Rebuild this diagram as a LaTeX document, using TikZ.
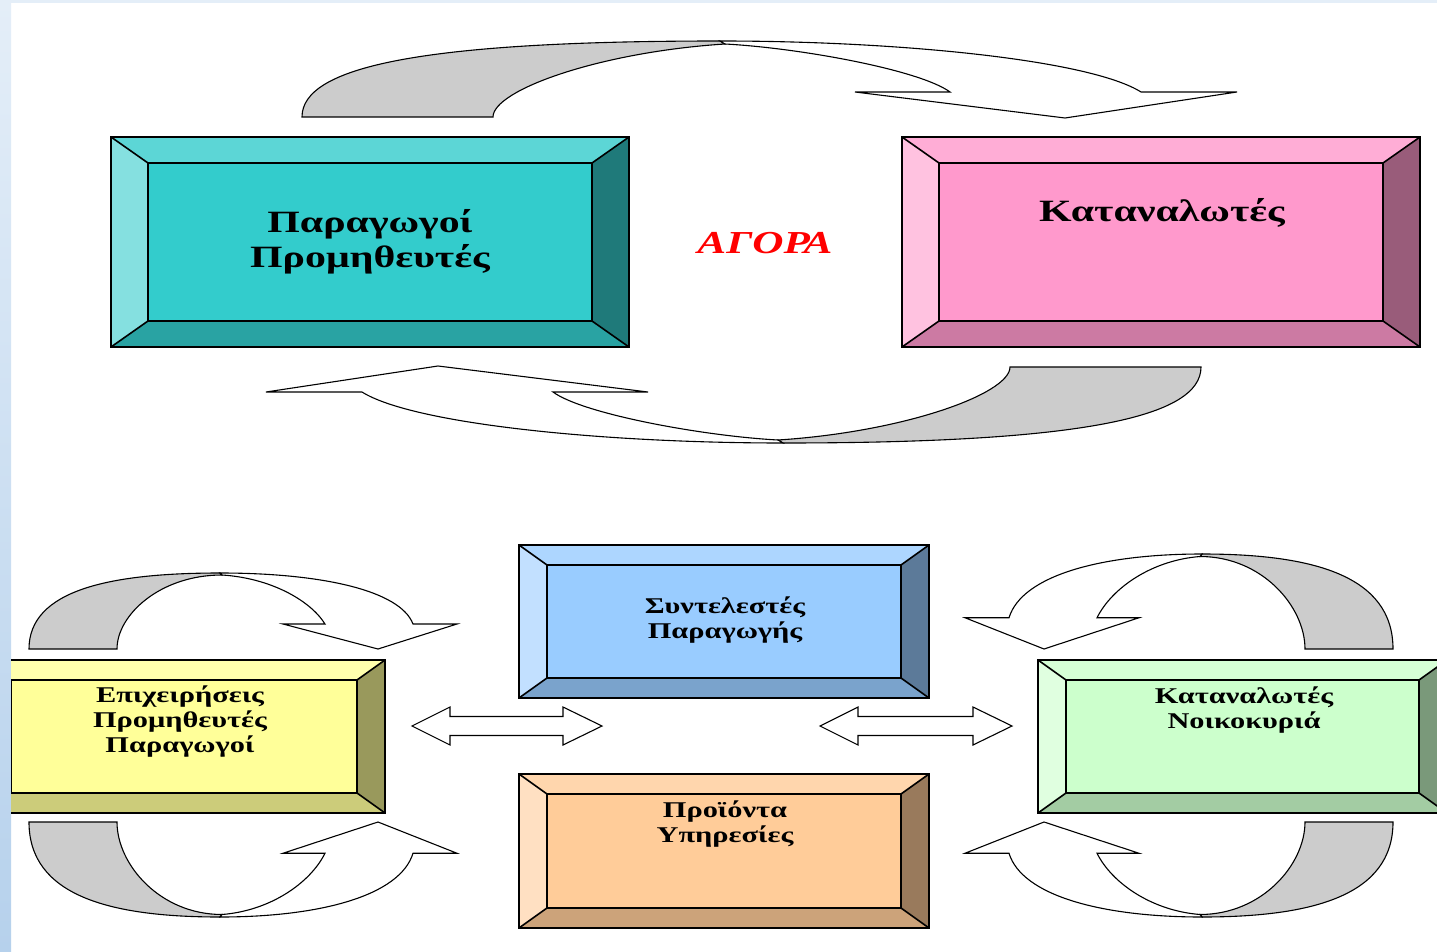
\documentclass[tikz,border=0pt]{standalone}
\usepackage{fontspec}
\setmainfont{Liberation Serif}[FakeStretch=1.35]
\usetikzlibrary{positioning}

\definecolor{tealface}{HTML}{33CCCC}\definecolor{tealtop}{HTML}{5CD6D6}
\definecolor{tealleft}{HTML}{85E0E0}\definecolor{tealright}{HTML}{1F7A7A}
\definecolor{tealbot}{HTML}{29A3A3}
\definecolor{pinkface}{HTML}{FF99CC}\definecolor{pinktop}{HTML}{FFADD6}
\definecolor{pinkleft}{HTML}{FFC2E0}\definecolor{pinkright}{HTML}{995C7A}
\definecolor{pinkbot}{HTML}{CC7AA3}
\definecolor{blueface}{HTML}{99CCFF}\definecolor{bluetop}{HTML}{ADD6FF}
\definecolor{blueleft}{HTML}{C2E0FF}\definecolor{blueright}{HTML}{5C7A99}
\definecolor{bluebot}{HTML}{7AA3CC}
\definecolor{orangeface}{HTML}{FFCC99}\definecolor{orangetop}{HTML}{FFD6AD}
\definecolor{orangeleft}{HTML}{FFE0C2}\definecolor{orangeright}{HTML}{997A5C}
\definecolor{orangebot}{HTML}{CCA37A}
\definecolor{yellowface}{HTML}{FFFF99}\definecolor{yellowtop}{HTML}{FFFFAD}
\definecolor{yellowleft}{HTML}{FFFFC2}\definecolor{yellowright}{HTML}{99995C}
\definecolor{yellowbot}{HTML}{CCCC7A}
\definecolor{greenface}{HTML}{CCFFCC}\definecolor{greentop}{HTML}{D6FFD6}
\definecolor{greenleft}{HTML}{E0FFE0}\definecolor{greenright}{HTML}{7A997A}
\definecolor{greenbot}{HTML}{A3CCA3}
\definecolor{backgrey}{HTML}{CCCCCC}
\definecolor{edgeblue}{HTML}{E4EEF8}
\definecolor{edgedeep}{HTML}{B6D1EC}

\tikzset{
  boxline/.style={line width=1.6pt},
  arrline/.style={line width=1.1pt, line join=miter},
  bigtext/.style={align=center, inner sep=0pt, font=\bfseries\fontsize{31}{35}\selectfont},
  smalltext/.style={align=center, inner sep=0pt, font=\bfseries\fontsize{22.5}{25}\selectfont},
  agora/.style={text=red, inner sep=0pt, font=\bfseries\itshape\fontsize{32}{35}\selectfont}
}

% bevelled box: name, colour, top left x y, bottom right x y, bevel x y
\newcommand{\bevbox}[8]{%
  \coordinate (#1-nw) at (#3,#4);
  \coordinate (#1-ne) at (#5,#4);
  \coordinate (#1-se) at (#5,#6);
  \coordinate (#1-sw) at (#3,#6);
  \coordinate (#1-inw) at (#3+#7,#4+#8);
  \coordinate (#1-ine) at (#5-#7,#4+#8);
  \coordinate (#1-ise) at (#5-#7,#6-#8);
  \coordinate (#1-isw) at (#3+#7,#6-#8);
  \coordinate (#1) at ({(#3+#5)/2},{(#4+#6)/2});
  \fill[#2top] (#1-nw) -- (#1-ne) -- (#1-ine) -- (#1-inw) -- cycle;
  \fill[#2left] (#1-nw) -- (#1-inw) -- (#1-isw) -- (#1-sw) -- cycle;
  \fill[#2right] (#1-ne) -- (#1-se) -- (#1-ise) -- (#1-ine) -- cycle;
  \fill[#2bot] (#1-sw) -- (#1-isw) -- (#1-ise) -- (#1-se) -- cycle;
  \draw[boxline, fill=#2face] (#1-inw) rectangle (#1-ise);
  \draw[boxline] (#1-nw) -- (#1-inw) (#1-ne) -- (#1-ine)
                 (#1-se) -- (#1-ise) (#1-sw) -- (#1-isw);
  \draw[boxline] (#1-nw) rectangle (#1-se);
}

% long curved arrow of the market loop
\newcommand{\bigturn}[1]{%
  \begin{scope}[#1]
    \draw[arrline, fill=backgrey] (302,117) .. controls (302,67) and (420,41) .. (720,41)
      -- (725,44) .. controls (600,52) and (493,90) .. (493,117) -- cycle;
    \draw[arrline, fill=white] (720,41) .. controls (900,41) and (1090,60) .. (1141,92)
      -- (1237,92) -- (1065,118) -- (855,92) -- (950,92)
      .. controls (920,70) and (800,48) .. (725,44) -- cycle;
  \end{scope}}

% short curved arrow, base line at y=0
\newcommand{\smallturn}[1]{%
  \begin{scope}[#1]
    \draw[arrline, fill=backgrey] (29,0) .. controls (29,-59) and (110,-76) .. (220,-76)
      -- (222,-74) .. controls (160,-74) and (117,-34) .. (117,0) -- cycle;
    \draw[arrline, fill=white] (220,-76) .. controls (320,-76) and (400,-59) .. (413,-25)
      -- (457,-25) -- (378,0) -- (283,-25) -- (325,-25)
      .. controls (310,-49) and (270,-71) .. (222,-74) -- cycle;
  \end{scope}}

% double block arrow: left tip x, right tip x, centre y
\newcommand{\twoway}[3]{%
  \draw[arrline, fill=white] (#1,#3) -- (#1+38,#3-19) -- (#1+38,#3-9.5)
    -- (#2-39,#3-9.5) -- (#2-39,#3-19) -- (#2,#3) -- (#2-39,#3+19)
    -- (#2-39,#3+9.5) -- (#1+38,#3+9.5) -- (#1+38,#3+19) -- cycle;
}

\begin{document}
\begin{tikzpicture}[x=1pt, y=-1pt]
  \useasboundingbox (0,0) rectangle (1437,952);
  %\draw[step=100,black,very thin] (0,0) grid (1437,952);
  \fill[white] (0,0) rectangle (1437,952);
  \shade[top color=edgeblue, bottom color=edgedeep] (0,0) rectangle (11,952);
  \fill[edgeblue] (11,0) rectangle (1437,3);

  \begin{scope}
    \clip (11,3) rectangle (1437,952);

    % market
    \bigturn{}
    \bigturn{rotate around={180:(751.5,242)}}
    \bevbox{prod}{teal}{111}{137}{629}{347}{37}{26}
    \bevbox{cons}{pink}{902}{137}{1420}{347}{37}{26}
    \node[bigtext] (prodtxt) at (prod) {Παραγωγοί\\Προμηθευτές};
    \node[bigtext] (constxt) at (1162,213) {Καταναλωτές};
    \node[agora] (market) at (765,243) {ΑΓΟΡΑ};

    % circular flow
    \smallturn{shift={(0,649)}}
    \smallturn{shift={(0,822)}, yscale=-1.25}
    \smallturn{shift={(1422,649)}, xscale=-1, yscale=1.25}
    \smallturn{shift={(1422,822)}, xscale=-1, yscale=-1.25}
    \bevbox{fact}{blue}{519}{545}{929}{698}{28}{20}
    \bevbox{goods}{orange}{519}{774}{929}{928}{28}{20}
    \bevbox{firms}{yellow}{-17}{660}{385}{813}{28}{20}
    \bevbox{house}{green}{1038}{660}{1447}{813}{28}{20}
    \node[smalltext] (facttxt) at (725,620) {Συντελεστές\\Παραγωγής};
    \node[smalltext] (goodstxt) at (725,824) {Προϊόντα\\Υπηρεσίες};
    \node[smalltext] (firmstxt) at (180,722) {Επιχειρήσεις\\Προμηθευτές\\Παραγωγοί};
    \node[smalltext] (housetxt) at (1244,710) {Καταναλωτές\\Νοικοκυριά};
    \twoway{412}{602}{726}
    \twoway{820}{1012}{726}
  \end{scope}
\end{tikzpicture}
\end{document}
